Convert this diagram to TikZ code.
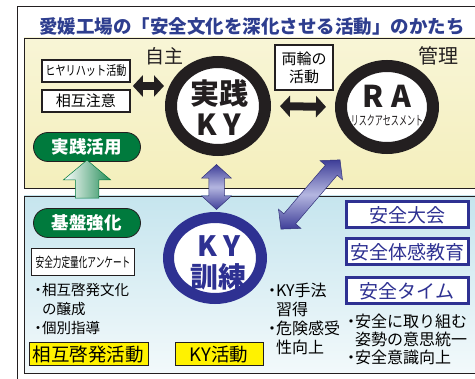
\documentclass[tikz,border=0pt]{standalone}
\usepackage{fontspec}
\setmainfont{Noto Sans CJK JP}
\usetikzlibrary{arrows.meta,shapes.arrows,shapes.geometric,calc,positioning}
\definecolor{titleblue}{HTML}{2E3E8F}
\definecolor{kyblue}{HTML}{2E3192}
\definecolor{darkgreen}{HTML}{007A3D}
\definecolor{signyellow}{HTML}{FFF200}
\definecolor{inkgray}{HTML}{231F20}
\definecolor{creamtop}{HTML}{F8F5D6}
\definecolor{creambot}{HTML}{F4EFBC}
\definecolor{skytop}{HTML}{C6E5EE}
\definecolor{skybot}{HTML}{F2F9FB}
\definecolor{arrowedge}{HTML}{3E3E98}
\definecolor{arrowmid}{HTML}{B4B6E0}
\newcommand{\bul}{\makebox[8pt][c]{・}}
\newcommand{\indt}{\hspace*{8pt}}

\begin{document}
\begin{tikzpicture}[x=1pt,y=-1pt]
    \tikzset{
      panel/.style = {draw=inkgray, line width=0.8pt},
      wbox/.style = {draw=inkgray, line width=1.6pt, fill=white, inner sep=0pt},
      bluebox/.style = {draw=kyblue, line width=3pt, fill=white,
        minimum width=122pt, minimum height=26pt, inner sep=0pt,
        text=kyblue, font=\fontsize{19}{19}\selectfont},
      greenpill/.style = {draw=inkgray, line width=0.8pt, fill=darkgreen,
        rounded corners=14.5pt, minimum width=107pt, minimum height=29pt,
        text=white, font=\bfseries\fontsize{17.5}{17.5}\selectfont},
      yellowbox/.style = {draw=inkgray, line width=1pt, fill=signyellow,
        minimum height=23pt, inner sep=0pt, font=\fontsize{18.5}{18.5}\selectfont},
      ring/.style = {ellipse, fill=white, inner sep=0pt},
      blackarrow/.style = {draw=inkgray, line width=8pt,
        {Triangle[length=10pt,width=21pt]}-{Triangle[length=10pt,width=21pt]}},
      purplearrow/.style = {double arrow, draw=arrowedge!80!black, line width=0.5pt,
        top color=arrowedge, bottom color=arrowedge, middle color=arrowmid,
        double arrow head extend=7pt, double arrow tip angle=95, inner sep=0pt},
      listtext/.style = {align=left, inner sep=0pt, anchor=north west}
    }
    \useasboundingbox (0,0) rectangle (475,379);
    \draw[line width=1pt, inkgray] (17,380) -- (17,7) -- (476,7);
    \node[font=\bfseries\fontsize{18.5}{18.5}\selectfont, text=titleblue] (title) at (252,27)
      {愛媛工場の「安全文化を深化させる活動」のかたち};
    \draw[panel, top color=creamtop, bottom color=creambot] (24,38) rectangle (478,188);
    \draw[panel, top color=skytop, bottom color=skybot] (24,196) rectangle (478,373);

    \node[ring, draw=inkgray, line width=12pt, minimum width=94pt, minimum height=88pt] (kyjissen) at (218,106) {};
    \node[font=\bfseries\fontsize{29}{29}\selectfont, text=inkgray] (kyjissenA) at ($(kyjissen)+(1,-13)$) {実践};
    \node[font=\bfseries\fontsize{29}{29}\selectfont, text=inkgray] (kyjissenB) at ($(kyjissen)+(1,19)$) {K\hspace{6pt}Y};
    \node[ring, draw=inkgray, line width=12pt, minimum width=92pt, minimum height=82pt] (ra) at (387,107) {};
    \node[font=\bfseries\fontsize{30}{30}\selectfont, text=inkgray] (raA) at ($(ra)+(0,-11)$) {R\hspace{8pt}A};
    \node[font=\fontsize{13}{13}\selectfont, text=inkgray] (raB) at ($(ra)+(0,14)$) {\scalebox{0.62}[1]{リスクアセスメント}};
    \node[ring, draw=kyblue, line width=11pt, minimum width=93pt, minimum height=81pt] (kykunren) at (215,258) {};
    \node[font=\bfseries\fontsize{28}{28}\selectfont, text=kyblue] (kykunrenA) at ($(kykunren)+(4,-12)$) {K\hspace{6pt}Y};
    \node[font=\bfseries\fontsize{28}{28}\selectfont, text=kyblue] (kykunrenB) at ($(kykunren)+(3,19)$) {訓練};

    \node[wbox, minimum width=88pt, minimum height=22pt] (hiyari) at (86,71)
      {\fontsize{13}{13}\selectfont\scalebox{0.78}[1]{ヒヤリハット活動}};
    \node[wbox, minimum width=88pt, minimum height=22pt] (sougo) at (86,101)
      {\fontsize{15}{15}\selectfont 相互注意};
    \node[wbox, minimum width=58pt, minimum height=45pt, align=center,
      font=\fontsize{15}{18}\selectfont] (ryourin) at (304,67.5) {両輪の\\活動};
    \node[font=\fontsize{19}{19}\selectfont, text=inkgray] (jishu) at (164,56) {自主};
    \node[font=\fontsize{20}{20}\selectfont, text=inkgray] (kanri) at (438,56) {管理};

    \coordinate (leftpair) at ($(hiyari.east)!0.5!(sougo.east)$);
    \draw[blackarrow] ($(leftpair)+(2,0)$) -- ($(kyjissen.west |- leftpair)+(-1,0)$);
    \draw[blackarrow, shorten <=9pt, shorten >=9pt] (kyjissen.east) -- (ra.west);

    \node[greenpill] (katsuyo) at (87,147) {実践活用};
    \node[greenpill] (kiban) at (87,223) {基盤強化};
    \node[single arrow, rotate=90, draw=darkgreen, line width=0.5pt,
      left color=white, right color=darkgreen!85, minimum height=38pt,
      single arrow head extend=12pt, single arrow tip angle=100, inner sep=0pt]
      (upgreen) at ($(katsuyo.south)!0.5!(kiban.north)+(0,-1)$) {\rule{0pt}{23pt}};

    \node[purplearrow, rotate=90, minimum height=45pt] (vert) at ($(kyjissen.south)!0.5!(kykunren.north)+(0,3)$) {\rule{0pt}{15pt}};
    \coordinate (diaglo) at (281,229);
    \coordinate (diaghi) at (340,160);
    \node[purplearrow, rotate=49.5, minimum height=91pt] (diag) at ($(diaglo)!0.5!(diaghi)$) {\rule{0pt}{15pt}};

    \node[wbox, minimum width=103pt, minimum height=27pt] (anketo) at (83,262)
      {\fontsize{13.5}{13.5}\selectfont\scalebox{0.64}[1]{安全力定量化アンケート}};
    \node[listtext, font=\fontsize{14.5}{19}\selectfont] (leftlist) at (34,283)
      {\bul 相互啓発文化\\\indt の醸成\\\bul 個別指導};
    \node[yellowbox, minimum width=119pt] (keihatsu) at (88.5,354.5) {相互啓発活動};
    \node[yellowbox, minimum width=88pt] (kykatsudo) at (219,354.5) {KY活動};
    \node[listtext, font=\fontsize{16}{19}\selectfont] (midlist) at (268,283)
      {\bul KY手法\\\indt 習得\\\bul 危険感受\\\indt 性向上};

    \node[bluebox] (taikai) at (407,215) {安全大会};
    \node[bluebox] (taikan) at (407,252) {安全体感教育};
    \node[bluebox] (taimu) at (407,291) {安全タイム};
    \node[listtext, font=\fontsize{16}{18}\selectfont] (rightlist) at (347,314)
      {\bul 安全に取り組む\\\indt 姿勢の意思統一\\\bul 安全意識向上};
  \end{tikzpicture}
\end{document}
